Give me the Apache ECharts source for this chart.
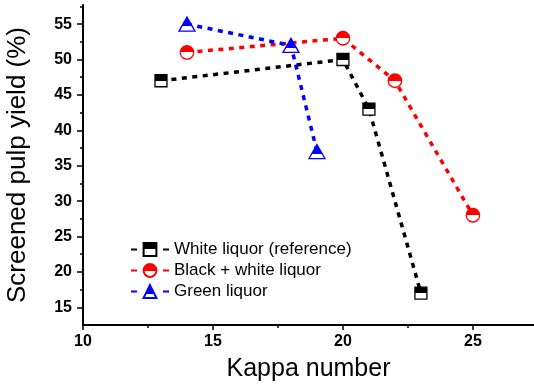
<!DOCTYPE html>
<html>
<head>
<meta charset="utf-8">
<script src="https://cdn.jsdelivr.net/npm/echarts@6/dist/echarts.min.js"></script>
<style>
  html, body { margin: 0; padding: 0; background: #fff; }
  #chart { width: 534px; height: 386px; }
</style>
</head>
<body>
<div id="chart"></div>
<script>
// Kappa number vs screened pulp yield for three cooking liquors
const kappaWhite = [13, 20, 21, 23];
const yieldWhite = [47, 50, 43, 17];
const kappaBlackWhite = [14, 20, 22, 25];
const yieldBlackWhite = [51, 53, 47, 28];
const kappaGreen = [14, 18, 19];
const yieldGreen = [55, 52, 37];

const xMajorTicks = [10, 15, 20, 25];
const xMinorTicks = [12.5, 17.5, 22.5];
const yMajorTicks = [15, 20, 25, 30, 35, 40, 45, 50, 55];
const yMinorTicks = [17.5, 22.5, 27.5, 32.5, 37.5, 42.5, 47.5, 52.5, 57.5];

const seriesNames = ['White liquor (reference)', 'Black + white liquor', 'Green liquor'];

const X_MIN = 10, X_MAX = 27.35;
const Y_MIN = 12.5, Y_MAX = 57.7;

const FONT = 'Liberation Sans, Arial, sans-serif';

function pair(xs, ys) { return xs.map((x, i) => [x, ys[i]]); }

// upper part filled, lower part white
function halfFill(color, split) {
  return {
    type: 'linear', x: 0, y: 0, x2: 0, y2: 1,
    colorStops: [
      { offset: 0, color: color },
      { offset: split, color: color },
      { offset: split, color: '#ffffff' },
      { offset: 1, color: '#ffffff' }
    ]
  };
}

function makeSeries(name, data, color, symbol, size, split) {
  return {
    name: name,
    type: 'line',
    data: data,
    xAxisIndex: 0,
    yAxisIndex: 0,
    symbol: symbol,
    symbolSize: size,
    showAllSymbol: true,
    lineStyle: { color: color, width: 3.5, type: [5, 5.5] },
    itemStyle: { color: halfFill(color, split), borderColor: color, borderWidth: 1.3 },
    emphasis: { disabled: true },
    animation: false
  };
}

const axisLabelStyle = { color: '#000', fontFamily: FONT, fontWeight: 'bold', fontSize: 16 };

const chart = echarts.init(document.getElementById('chart'), null, { renderer: 'canvas' });
chart.setOption({
  backgroundColor: '#fff',
  animation: false,
  grid: { left: 83, right: 0, top: 5, bottom: 61, containLabel: false, outerBoundsMode: 'none' },
  legend: {
    orient: 'vertical',
    left: 125,
    top: 236,
    itemWidth: 38,
    itemHeight: 16,
    itemGap: 4,
    data: seriesNames,
    lineStyle: { type: [6, 26] },
    textStyle: { color: '#000', fontFamily: FONT, fontSize: 17 },
    selectedMode: false
  },
  xAxis: [
    {
      type: 'value', min: X_MIN, max: X_MAX, position: 'bottom',
      name: 'Kappa number', nameLocation: 'middle', nameGap: 32,
      nameTextStyle: { color: '#000', fontFamily: FONT, fontSize: 25 },
      axisLine: { show: true, onZero: false, lineStyle: { color: '#000', width: 2 } },
      axisTick: { show: true, customValues: xMajorTicks, length: 5, lineStyle: { color: '#000', width: 1.5 } },
      axisLabel: Object.assign({ customValues: xMajorTicks, margin: 9 }, axisLabelStyle),
      splitLine: { show: false }
    },
    {
      type: 'value', min: X_MIN, max: X_MAX, position: 'bottom', gridIndex: 0,
      axisLine: { show: false },
      axisTick: { show: true, customValues: xMinorTicks, length: 3, lineStyle: { color: '#000', width: 1.5 } },
      axisLabel: { show: false },
      splitLine: { show: false }
    }
  ],
  yAxis: [
    {
      type: 'value', min: Y_MIN, max: Y_MAX, position: 'left',
      name: 'Screened pulp yield (%)', nameLocation: 'middle', nameGap: 52,
      nameTextStyle: { color: '#000', fontFamily: FONT, fontSize: 26 },
      axisLine: { show: true, onZero: false, lineStyle: { color: '#000', width: 2 } },
      axisTick: { show: true, customValues: yMajorTicks, length: 6, lineStyle: { color: '#000', width: 1.5 } },
      axisLabel: Object.assign({ customValues: yMajorTicks, margin: 11 }, axisLabelStyle),
      splitLine: { show: false }
    },
    {
      type: 'value', min: Y_MIN, max: Y_MAX, position: 'left', gridIndex: 0,
      axisLine: { show: false },
      axisTick: { show: true, customValues: yMinorTicks, length: 3, lineStyle: { color: '#000', width: 1.5 } },
      axisLabel: { show: false },
      splitLine: { show: false }
    }
  ],
  series: [
    makeSeries(seriesNames[0], pair(kappaWhite, yieldWhite), '#000000', 'rect', 12, 0.5),
    makeSeries(seriesNames[1], pair(kappaBlackWhite, yieldBlackWhite), '#ff0000', 'circle', 13.5, 0.5),
    makeSeries(seriesNames[2], pair(kappaGreen, yieldGreen), '#0000ff', 'triangle', [16, 14], 0.65)
  ]
});
</script>
</body>
</html>
